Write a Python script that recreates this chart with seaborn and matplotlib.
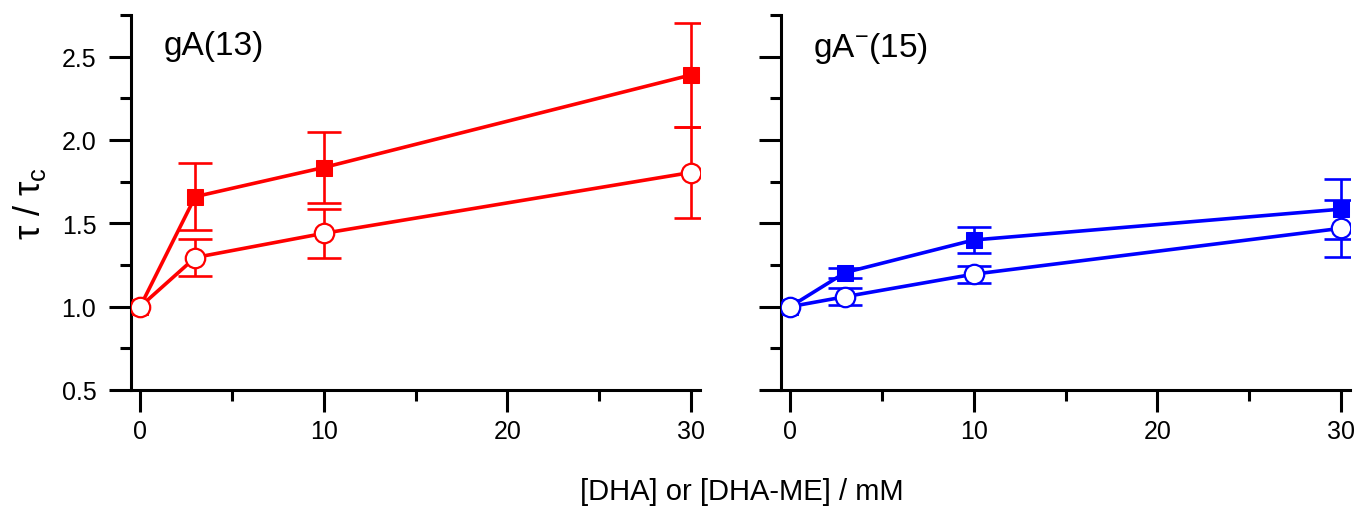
import numpy as np
import pandas as pd
import seaborn as sns
import matplotlib
matplotlib.use("Agg")
import matplotlib.pyplot as plt
from matplotlib.ticker import MultipleLocator

# ---- data ----
conc = [0, 3, 10, 30]
gA13_dha = [1.0, 1.66, 1.835, 2.39]
gA13_dha_err = [0.0, 0.20, 0.215, 0.31]
gA13_me = [1.0, 1.295, 1.44, 1.805]
gA13_me_err = [0.0, 0.11, 0.145, 0.275]
gA15_dha = [1.0, 1.205, 1.40, 1.585]
gA15_dha_err = [0.0, 0.03, 0.08, 0.18]
gA15_me = [1.0, 1.06, 1.195, 1.47]
gA15_me_err = [0.0, 0.05, 0.05, 0.17]
panel_titles = ["gA(13)", r"gA$^{\mathregular{-}}$(15)"]
x_ticks = [0, 10, 20, 30]
y_ticks = [0.5, 1.0, 1.5, 2.0, 2.5]

sns.set_theme(style="ticks")
plt.rcParams['font.family'] = ['Liberation Sans', 'DejaVu Sans']
plt.rcParams['mathtext.fontset'] = 'custom'
plt.rcParams['mathtext.rm'] = 'Liberation Sans'
plt.rcParams['mathtext.it'] = 'Liberation Sans'
plt.rcParams['text.color'] = 'black'
plt.rcParams['axes.labelcolor'] = 'black'

fig = plt.figure(figsize=(13.58, 5.10), dpi=100)
W, H = 1358, 510
axL = fig.add_axes([131 / W, 1 - 391 / H, 569 / W, (391 - 16) / H])
axR = fig.add_axes([781 / W, 1 - 391 / H, 569 / W, (391 - 16) / H])

panels = [
    (axL, "#ff0000", gA13_dha, gA13_dha_err, gA13_me, gA13_me_err),
    (axR, "#0000ff", gA15_dha, gA15_dha_err, gA15_me, gA15_me_err),
]


def draw_err(ax, x, y, e, col):
    xs = [a for a, b in zip(x, e) if b > 0]
    ys = [a for a, b in zip(y, e) if b > 0]
    es = [b for b in e if b > 0]
    ax.errorbar(xs, ys, yerr=es, fmt="none", ecolor=col, elinewidth=1.9,
                capsize=12, capthick=1.9, zorder=2)


for i, (ax, col, fy, fe, oy, oe) in enumerate(panels):
    df = pd.DataFrame({
        "conc": conc * 2,
        "val": fy + oy,
        "kind": ["DHA"] * 4 + ["DHA-ME"] * 4,
    })
    draw_err(ax, conc, fy, fe, col)
    draw_err(ax, conc, oy, oe, col)
    sns.lineplot(data=df, x="conc", y="val", style="kind", ax=ax,
                 color=col, linewidth=2.6, dashes=False,
                 markers={"DHA": "s", "DHA-ME": "o"}, legend=False, zorder=3)
    for ln in ax.get_lines():
        if ln.get_marker() == "s":
            ln.set_markersize(11.5)
            ln.set_markerfacecolor(col)
            ln.set_markeredgecolor(col)
        elif ln.get_marker() == "o":
            ln.set_markersize(14)
            ln.set_markerfacecolor("white")
            ln.set_markeredgecolor(col)
            ln.set_markeredgewidth(1.6)
            ln.set_zorder(4)

    ax.set_xlim(-0.5, 30.5)
    ax.set_ylim(0.5, 2.75)
    ax.set_xticks(x_ticks)
    ax.set_yticks(y_ticks)
    ax.xaxis.set_minor_locator(MultipleLocator(5))
    ax.yaxis.set_minor_locator(MultipleLocator(0.25))
    for s in ["top", "right"]:
        ax.spines[s].set_visible(False)
    for s in ["left", "bottom"]:
        ax.spines[s].set_linewidth(2.2)
        ax.spines[s].set_color("black")
    ax.tick_params(axis="both", which="major", direction="out", length=16,
                   width=2.2, color="black", labelsize=18, labelcolor="black")
    ax.tick_params(axis="both", which="minor", direction="out", length=8,
                   width=2.2, color="black")
    ax.tick_params(axis="x", which="major", pad=5)
    ax.tick_params(axis="y", which="major", pad=9)
    ax.set_xlabel("")
    ax.set_ylabel("")
    ax.patch.set_alpha(0)
    ax.text(0.057, 0.96, panel_titles[i], transform=ax.transAxes,
            fontsize=24, va="top", ha="left", color="black")

axR.tick_params(axis="y", labelleft=False)

axL.set_ylabel(r"$\tau$ / $\tau_\mathregular{c}$", fontsize=26, labelpad=10,
               color="black")
fig.text(742 / W, 1 - 492 / H, "[DHA] or [DHA-ME] / mM", ha="center",
         va="center", fontsize=21, color="black")

fig.savefig("out.png", dpi=100, facecolor="white")
